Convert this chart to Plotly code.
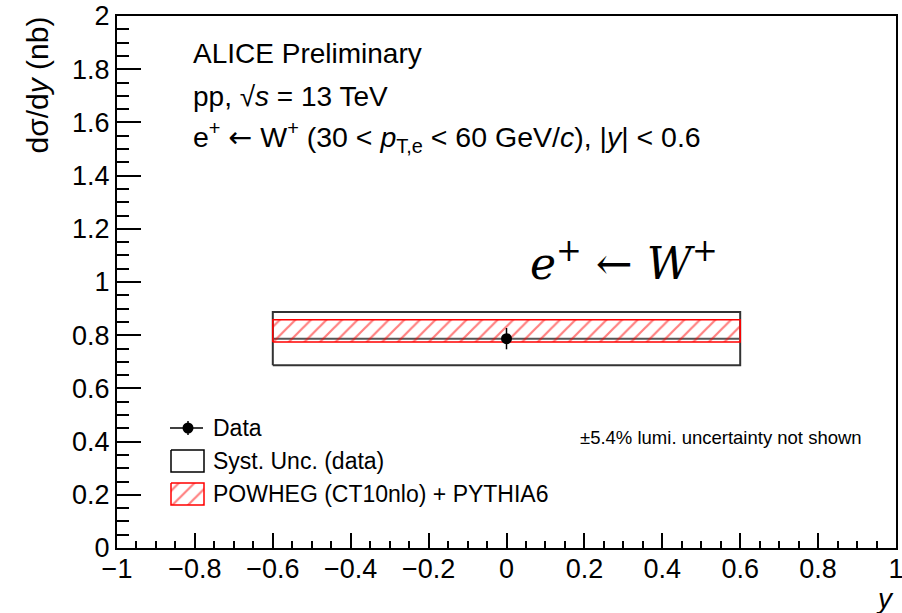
import plotly.graph_objects as go

# ---- data ----
y_bin = [-0.6, 0.6]          # rapidity bin edges
y_center = [0.0]
data_val = [0.787]
data_stat = [0.040]
data_syst = [0.100]
powheg_val = [0.816]
powheg_err = [0.042]

x_ticks = [-1, -0.8, -0.6, -0.4, -0.2, 0, 0.2, 0.4, 0.6, 0.8, 1]
x_ticktext = ["\u22121", "\u22120.8", "\u22120.6", "\u22120.4", "\u22120.2", "0",
              "0.2", "0.4", "0.6", "0.8", "1"]
y_ticks = [0, 0.2, 0.4, 0.6, 0.8, 1, 1.2, 1.4, 1.6, 1.8, 2]
y_ticktext = ["0", "0.2", "0.4", "0.6", "0.8", "1", "1.2", "1.4", "1.6", "1.8", "2"]

W, H = 902, 613
L, R, T, B = 117, 896, 16, 548   # plot-area pixel frame
FONT = "Liberation Sans, Arial, Helvetica, sans-serif"
HATCH = dict(shape="/", fgcolor="red", bgcolor="rgba(0,0,0,0)", size=11, solidity=0.2)

fig = go.Figure()

x0, x1 = y_bin
# systematic box
s_lo = data_val[0] - data_syst[0]
s_hi = data_val[0] + data_syst[0]
fig.add_trace(go.Scatter(x=[x0, x1, x1, x0, x0], y=[s_lo, s_lo, s_hi, s_hi, s_lo],
                         mode="lines", line=dict(color="#333333", width=2),
                         hoverinfo="skip", showlegend=False))
# data central line
fig.add_trace(go.Scatter(x=[x0, x1], y=[data_val[0], data_val[0]], mode="lines",
                         line=dict(color="#555555", width=2), hoverinfo="skip",
                         showlegend=False))
# POWHEG band
p_lo = powheg_val[0] - powheg_err[0]
p_hi = powheg_val[0] + powheg_err[0]
fig.add_trace(go.Scatter(x=[x0, x1, x1, x0, x0], y=[p_lo, p_lo, p_hi, p_hi, p_lo],
                         mode="lines", fill="toself", fillcolor="rgba(0,0,0,0)",
                         fillpattern=HATCH,
                         line=dict(color="red", width=1.5), hoverinfo="skip",
                         showlegend=False))
# data point
fig.add_trace(go.Scatter(x=y_center, y=data_val, mode="markers",
                         marker=dict(color="black", size=11, symbol="circle"),
                         error_y=dict(type="data", array=data_stat, color="black",
                                      thickness=1.5, width=0),
                         showlegend=False))

# ---- manual legend (pixel overlay axes) ----
px = dict(xaxis="x2", yaxis="y2", hoverinfo="skip", showlegend=False)
fig.add_trace(go.Scatter(x=[170, 203], y=[428, 428], mode="lines",
                         line=dict(color="black", width=1.5), **px))
fig.add_trace(go.Scatter(x=[188, 188], y=[421, 435], mode="lines",
                         line=dict(color="black", width=1.5), **px))
fig.add_trace(go.Scatter(x=[188], y=[428], mode="markers",
                         marker=dict(color="black", size=11), **px))
fig.add_trace(go.Scatter(x=[171, 204, 204, 171, 171], y=[450, 450, 472, 472, 450],
                         mode="lines", line=dict(color="black", width=1.5), **px))
fig.add_trace(go.Scatter(x=[171, 204, 204, 171, 171], y=[483, 483, 505, 505, 483],
                         mode="lines", fill="toself", fillcolor="rgba(0,0,0,0)",
                         fillpattern=HATCH,
                         line=dict(color="red", width=1.5), **px))

ann = []
def txt(x, y, s, size, xanchor="left", yanchor="middle", angle=0, family=FONT):
    # x, y given in page pixels -> paper coordinates
    ann.append(dict(x=(x - L) / (R - L), y=(B - y) / (B - T), xref="paper", yref="paper",
                    text=s, showarrow=False,
                    xanchor=xanchor, yanchor=yanchor, textangle=angle,
                    font=dict(family=family, size=size, color="black")))

ARROW = "<span style='font-family:DejaVu Sans'>\u2190</span>"

txt(211, 428, "Data", 23)
txt(211, 461, "Syst. Unc. (data)", 23)
txt(211, 494, "POWHEG (CT10nlo) + PYTHIA6", 23)
txt(578, 437, "\u00b15.4% lumi. uncertainty not shown", 18.5)

txt(191, 54, "ALICE Preliminary", 28)
txt(191, 96, "pp, \u221a<i>s</i> = 13 TeV", 28)
txt(191, 137, "e<sup>+</sup> " + ARROW + " W<sup>+</sup> (30 &lt; <i>p</i><sub>T,e</sub> &lt; 60 GeV/<i>c</i>), |<i>y</i>| &lt; 0.6", 28.5)
txt(624, 260, "<i>e</i><sup>+</sup> \u2190 <i>W</i><sup>+</sup>", 44, xanchor="center",
    family="DejaVu Serif, Liberation Serif, serif")

txt(37, 15, "d\u03c3/d<i>y</i> (nb)", 30, xanchor="center", yanchor="top", angle=-90)
txt(896, 598, "<i>y</i>", 28, xanchor="right")

fig.update_layout(
    width=W, height=H,
    margin=dict(l=L, r=W - R, t=T, b=H - B, pad=0, autoexpand=False),
    paper_bgcolor="white", plot_bgcolor="white",
    font=dict(family=FONT, color="black"),
    annotations=ann,
    xaxis=dict(range=[-1, 1], tickvals=x_ticks, ticktext=x_ticktext,
               ticks="inside", ticklen=15, tickwidth=1.5, tickcolor="black",
               showline=True, mirror=True, linecolor="black", linewidth=2,
               showgrid=False, zeroline=False, automargin=False,
               ticklabeloverflow="allow", ticklabelstandoff=-4,
               tickfont=dict(size=27, family=FONT),
               minor=dict(dtick=0.05, tick0=0, ticks="inside", ticklen=7,
                          tickwidth=1.5, tickcolor="black", showgrid=False)),
    yaxis=dict(range=[0, 2], tickvals=y_ticks, ticktext=y_ticktext,
               ticks="inside", ticklen=24, tickwidth=1.5, tickcolor="black",
               showline=True, mirror=True, linecolor="black", linewidth=2,
               showgrid=False, zeroline=False, automargin=False,
               ticklabeloverflow="allow",
               tickfont=dict(size=27, family=FONT),
               minor=dict(dtick=0.05, tick0=0, ticks="inside", ticklen=12,
                          tickwidth=1.5, tickcolor="black", showgrid=False)),
    xaxis2=dict(range=[L, R], overlaying="x", visible=False, fixedrange=True),
    yaxis2=dict(range=[B, T], overlaying="y", visible=False, fixedrange=True),
)

fig.write_html("out.html", config={"displayModeBar": False},
               post_script="document.body.style.margin='0';document.body.style.overflow='hidden';")
